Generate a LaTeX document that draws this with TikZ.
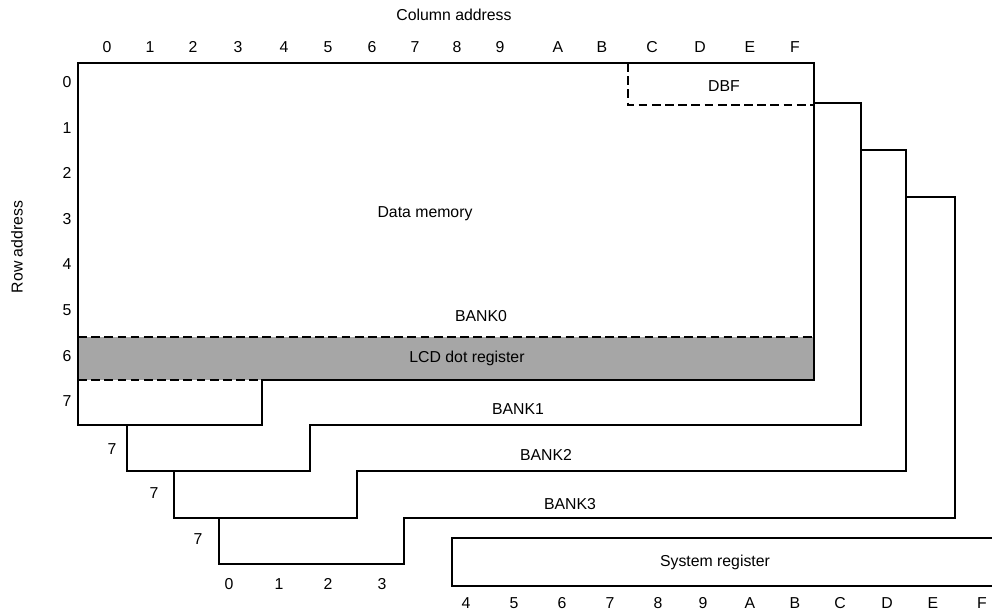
\documentclass[tikz,border=0pt]{standalone}
\usepackage{fontspec}
\setmainfont{Liberation Sans}
\usetikzlibrary{positioning}

\begin{document}
\begin{tikzpicture}[
    x=0.02cm, y=-0.02cm,
    font=\fontsize{9}{11}\selectfont,
    % styles
    wall/.style={line width=0.9pt, line join=miter},
    dashline/.style={line width=0.9pt, dash pattern=on 5pt off 2.5pt},
    lcdfill/.style={fill=black!35, draw=none},
    addr/.style={inner sep=0pt, anchor=center}
  ]
  \useasboundingbox (0,0) rectangle (992,613);

  % ---- titles ----
  \node (coltitle) at (454,15) {Column address};
  \node[rotate=90] (rowtitle) at (17,247) {Row address};

  % ---- column addresses (top) ----
  \foreach \x/\t in {107/0,150/1,193/2,238/3,284/4,328/5,372/6,415/7,
                     457/8,500/9,558/A,602/B,652/C,700/D,750/E,795/F}
    \node[addr] (ctop-\t) at (\x,47) {\t};

  % ---- row addresses ----
  \foreach \r in {0,...,7}
    \node[addr] (row-\r) at (67,{82+45.6*\r}) {\r};

  % ---- LCD dot register band ----
  \fill[lcdfill] (78,337) rectangle (814,380);
  \draw[dashline] (78,337) -- (814,337);
  \draw[dashline] (78,380) -- (262,380);

  % ---- BANK0 outline ----
  \draw[wall] (78,63) -- (814,63) -- (814,380) -- (262,380)
              -- (262,425) -- (78,425) -- cycle;

  % DBF corner
  \draw[dashline] (628,63) -- (628,105) -- (814,105);

  % ---- BANK1..BANK3 (stacked behind) ----
  \foreach \prev/\rx/\top/\bot/\step/\lx/\tabbot in
      {814/861/103/425/310/127/471,
       861/906/150/471/357/174/518,
       906/955/197/518/404/219/564}
    \draw[wall] (\prev,\top) -| (\rx,\bot) -| (\step,\tabbot) -| (\lx,\bot);

  % row 7 of the other banks
  \node[addr] (row7-b1) at (112,449) {7};
  \node[addr] (row7-b2) at (154,493) {7};
  \node[addr] (row7-b3) at (198,539) {7};

  % ---- labels inside ----
  \node (dbf)    at (724,86)  {DBF};
  \node (datmem) at (425,214) {Data memory};
  \node (bank0)  at (481,316) {BANK0};
  \node (lcd)    at (467,358) {LCD dot register};
  \node (bank1)  at (518,409) {BANK1};
  \node (bank2)  at (546,455) {BANK2};
  \node (bank3)  at (570,504) {BANK3};

  % column addresses 0-3 below BANK3
  \foreach \x/\t in {229/0,279/1,328/2,382/3}
    \node[addr] (cbot-\t) at (\x,584) {\t};

  % ---- system register ----
  \draw[wall] (992,538) -- (452,538) -- (452,586) -- (992,586);
  \node (sysreg) at (715,562) {System register};
  \foreach \x/\t in {466/4,514/5,562/6,610/7,658/8,703/9,
                     750/A,795/B,840/C,887/D,933/E,982/F}
    \node[addr] (csys-\t) at (\x,603) {\t};

\end{tikzpicture}
\end{document}
